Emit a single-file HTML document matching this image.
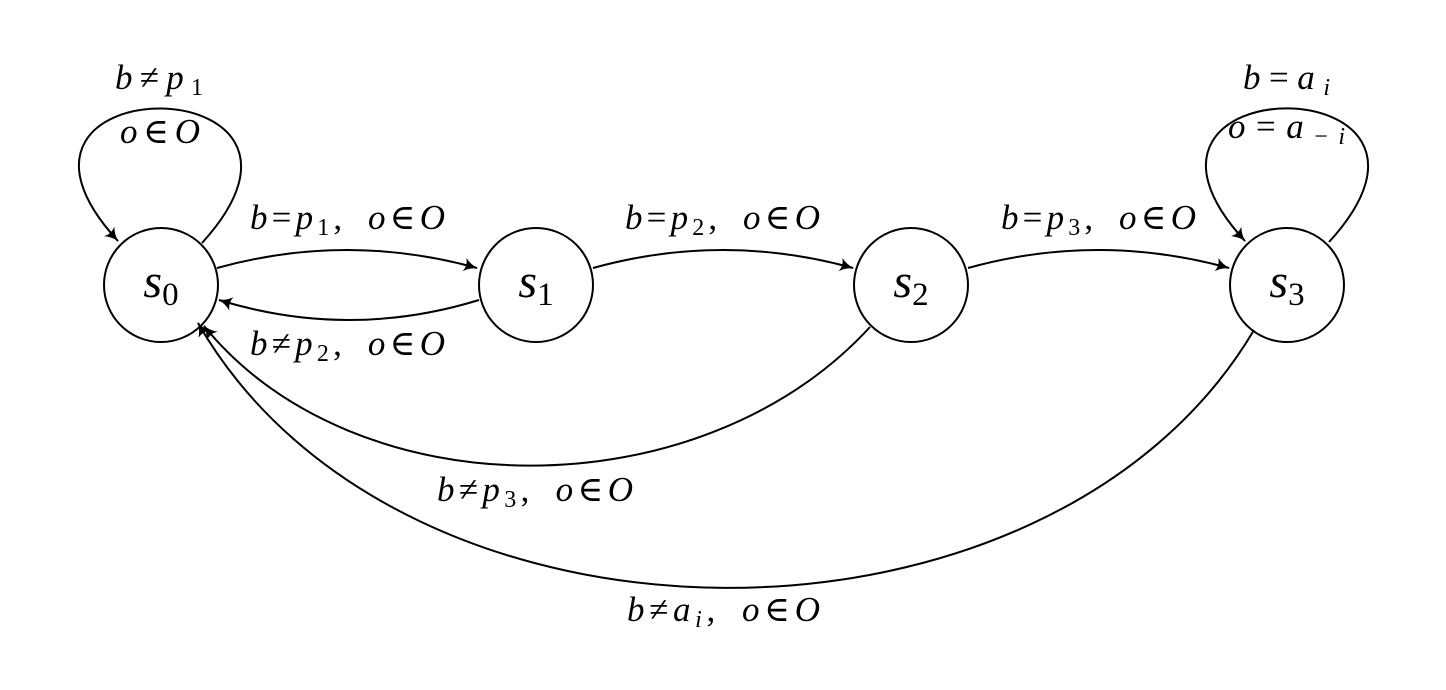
<!DOCTYPE html>
<html><head><meta charset="utf-8"><style>
html,body{margin:0;padding:0;background:#fff;width:1446px;height:690px;overflow:hidden}
svg text{font-family:"Liberation Serif","DejaVu Serif",serif;font-style:italic;fill:#000}
</style></head><body>
<svg width="1446" height="690" viewBox="0 0 1446 690" xmlns="http://www.w3.org/2000/svg">
<defs>
<marker id="a" markerWidth="18" markerHeight="16" refX="13" refY="7" orient="auto" markerUnits="userSpaceOnUse">
<path d="M0,0 Q6,5.5 14,7 Q6,8.5 0,14 Q3.5,7 0,0Z" fill="#000"/>
</marker>
</defs>
<g fill="none" stroke="#000" stroke-width="2">
<circle cx="161" cy="285" r="57"/>
<circle cx="536" cy="285" r="57"/>
<circle cx="911" cy="285" r="57"/>
<circle cx="1287" cy="285" r="57"/>
<path d="M217,268 Q347,232 477,268" marker-end="url(#a)"/>
<path d="M479,300 Q349,340 219,300" marker-end="url(#a)"/>
<path d="M593,268 Q723,232 853,268" marker-end="url(#a)"/>
<path d="M968,268 Q1098,232 1229,268" marker-end="url(#a)"/>
<path d="M870,327 C700,512 356,512 204,326" marker-end="url(#a)"/>
<path d="M1254,330 C1050,675 400,675 198,323" marker-end="url(#a)"/>
<path d="M202,243 C365,64 -45,64 118,241" marker-end="url(#a)"/>
<path d="M1329,242 C1492,64 1082,64 1245,241" marker-end="url(#a)"/>
</g>
<g font-size="48" text-anchor="middle">
<text x="161" y="297">s<tspan font-size="33" font-style="normal" dy="8">0</tspan></text>
<text x="536" y="297">s<tspan font-size="33" font-style="normal" dy="8">1</tspan></text>
<text x="911" y="297">s<tspan font-size="33" font-style="normal" dy="8">2</tspan></text>
<text x="1287" y="297">s<tspan font-size="33" font-style="normal" dy="8">3</tspan></text>
</g>
<g font-size="35">
<text x="115" y="89" textLength="88" lengthAdjust="spacing">b<tspan font-style="normal">≠</tspan>p<tspan font-size="24" font-style="normal" dy="6">1</tspan></text>
<text x="120" y="143" textLength="80" lengthAdjust="spacing">o<tspan font-style="normal">∈</tspan>O</text>
<text x="250" y="229" textLength="195" lengthAdjust="spacing">b<tspan font-style="normal">=</tspan>p<tspan font-size="24" font-style="normal" dy="6">1</tspan><tspan dy="-6" font-style="normal">,&#8194;</tspan>o<tspan font-style="normal">∈</tspan>O</text>
<text x="250" y="355" textLength="195" lengthAdjust="spacing">b<tspan font-style="normal">≠</tspan>p<tspan font-size="24" font-style="normal" dy="6">2</tspan><tspan dy="-6" font-style="normal">,&#8194;</tspan>o<tspan font-style="normal">∈</tspan>O</text>
<text x="625" y="229" textLength="195" lengthAdjust="spacing">b<tspan font-style="normal">=</tspan>p<tspan font-size="24" font-style="normal" dy="6">2</tspan><tspan dy="-6" font-style="normal">,&#8194;</tspan>o<tspan font-style="normal">∈</tspan>O</text>
<text x="1001" y="229" textLength="195" lengthAdjust="spacing">b<tspan font-style="normal">=</tspan>p<tspan font-size="24" font-style="normal" dy="6">3</tspan><tspan dy="-6" font-style="normal">,&#8194;</tspan>o<tspan font-style="normal">∈</tspan>O</text>
<text x="437" y="501" textLength="196" lengthAdjust="spacing">b<tspan font-style="normal">≠</tspan>p<tspan font-size="24" font-style="normal" dy="6">3</tspan><tspan dy="-6" font-style="normal">,&#8194;</tspan>o<tspan font-style="normal">∈</tspan>O</text>
<text x="627" y="621" textLength="193" lengthAdjust="spacing">b<tspan font-style="normal">≠</tspan>a<tspan font-size="24" dy="6">i</tspan><tspan dy="-6" font-style="normal">,&#8194;</tspan>o<tspan font-style="normal">∈</tspan>O</text>
<text x="1243" y="89" textLength="87" lengthAdjust="spacing">b<tspan font-style="normal">=</tspan>a<tspan font-size="24" dy="6">i</tspan></text>
<text x="1228" y="138" textLength="117" lengthAdjust="spacing">o<tspan font-style="normal">=</tspan>a<tspan font-size="24" dy="6"><tspan font-style="normal">−</tspan>i</tspan></text>
</g>
</svg>
</body></html>
